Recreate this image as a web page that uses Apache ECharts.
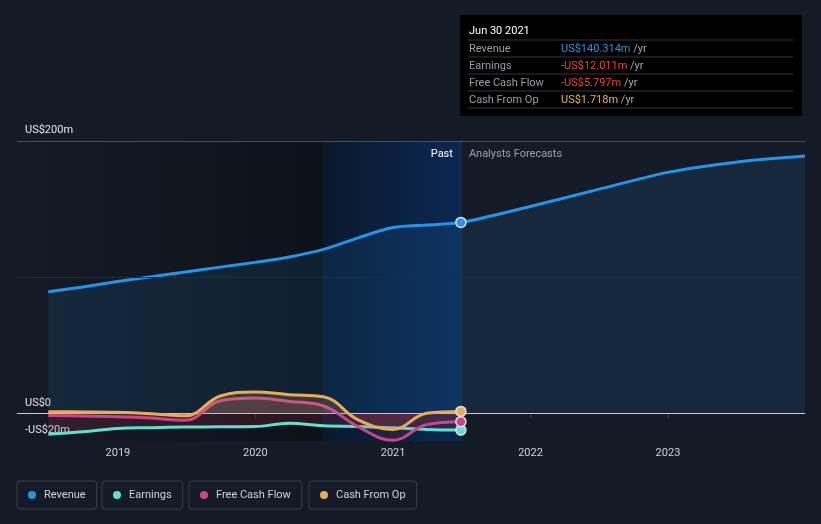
<!DOCTYPE html>
<html>
<head>
<meta charset="utf-8">
<script src="https://cdn.jsdelivr.net/npm/echarts@6/dist/echarts.min.js"></script>
<style>
html,body{margin:0;padding:0;background:#151b26;}
#c{width:821px;height:524px;}
</style>
</head>
<body>
<div id="c"></div>
<script>
// ---- data (US$ millions) ----
const pastDates = ['2018-06-30','2018-09-30','2018-12-31','2019-03-31','2019-06-30','2019-09-30','2019-12-31','2020-03-31','2020-06-30','2020-09-30','2020-12-31','2021-03-31','2021-06-30'];
const revenuePast = [89.5, 93, 97, 100.5, 104, 107.5, 111, 115, 120.5, 129, 136.5, 138.4, 140.314];
const forecastDates = ['2021-12-31','2022-06-30','2022-12-31','2023-06-30','2023-12-31'];
const revenueForecast = [152, 164.5, 177, 184.5, 189];
const earnings = [-15, -13.2, -10.8, -10.2, -9.8, -9.6, -9.4, -7, -8.9, -9.3, -10.3, -11.5, -12.011];
const freeCashFlow = [-1.3, -1.7, -2.2, -3.2, -4.8, 9.5, 11.5, 9, 5.8, -9.5, -19.5, -8, -5.797];
const cashFromOp = [1.5, 1.3, 1, 0, -1.5, 13, 16, 14, 12.5, -4.5, -11.5, 0.3, 1.718];
const yTickLabels = {'200':'US$200m','0':'US$0','-20':'-US$20m'};
const xRange = ['2018-04-08','2023-12-31'];
const highlightStart = '2020-06-30';
const pastEnd = '2021-06-30';
const tooltipTitle = 'Jun 30 2021';
const tooltipRows = [
  ['Revenue','US$140.314m','#2394ea'],
  ['Earnings','-US$12.011m','#f04438'],
  ['Free Cash Flow','-US$5.797m','#f04438'],
  ['Cash From Op','US$1.718m','#e9b457']
];
const names = ['Revenue','Earnings','Free Cash Flow','Cash From Op'];
const colors = ['#2394ea','#5fe0d2','#c9468b','#e9ab57'];

const FONT = 'Roboto, "Noto Sans", sans-serif';
const chart = echarts.init(document.getElementById('c'), null, {renderer:'canvas'});

function lastMarked(dates, vals, color, markIdx){
  return vals.map((v,i)=>{
    const it = {value:[dates[i], v]};
    if(i===markIdx){
      it.symbol='circle'; it.symbolSize=10;
      it.itemStyle={color:color,borderColor:'#dfe3e8',borderWidth:1.5};
    } else { it.symbol='none'; }
    return it;
  });
}
const revDates = pastDates.concat(forecastDates);
const revVals = revenuePast.concat(revenueForecast);

function splitGrad(zeroOff, upColor, downColor){
  return new echarts.graphic.LinearGradient(0,0,0,524,[
    {offset:0,color:upColor},{offset:zeroOff,color:upColor},
    {offset:zeroOff,color:downColor},{offset:1,color:downColor}],true);
}

function buildOption(zeroOff){
  const legends = names.map((n,i)=>({
    data:[n], left:[17,102,189,309][i], top:481,
    icon:'circle', itemWidth:8, itemHeight:8,
    padding:[7,11,7,11], borderColor:'#3a404b', borderWidth:1, borderRadius:3,
    textStyle:{color:'#cfd3d8', fontSize:11, fontFamily:FONT, padding:[1,0,0,3], lineHeight:13},
    selectedMode:false
  }));
  const tipChildren = [
    {type:'rect', shape:{x:0,y:0,width:342,height:101}, style:{fill:'#000'}},
    {type:'text', x:9, y:16, style:{text:tooltipTitle, fill:'#ffffff', font:'11px '+FONT, verticalAlign:'middle'}}
  ];
  [25,42,59,76,93].forEach(y=>tipChildren.push({type:'line', shape:{x1:8,y1:y,x2:333,y2:y}, style:{stroke:'#34373c',lineWidth:1}}));
  tooltipRows.forEach((r,i)=>{
    const cy = 34 + i*17;
    tipChildren.push({type:'text', x:9, y:cy, style:{text:r[0], fill:'#9a9ea4', font:'11px '+FONT, verticalAlign:'middle'}});
    tipChildren.push({type:'text', x:101, y:cy, style:{text:'{v|'+r[1]+'} {u|/yr}', verticalAlign:'middle', font:'11px '+FONT,
      rich:{v:{fill:r[2], font:'11px '+FONT}, u:{fill:'#a4a8ae', font:'11px '+FONT}}}});
  });
  return {
    backgroundColor:'#151b26',
    animation:false,
    textStyle:{fontFamily:FONT},
    grid:{left:17, right:16, top:141, bottom:83},
    legend: legends,
    xAxis:{type:'time', min:xRange[0], max:xRange[1],
      minInterval:365*864e5, maxInterval:366*864e5,
      axisLine:{lineStyle:{color:'#3a3f49'}},
      axisTick:{show:true,length:5,lineStyle:{color:'#3a3f49'}},
      axisLabel:{color:'#cfd3d8',fontSize:11,fontFamily:FONT,margin:7,showMinLabel:false,showMaxLabel:false,
        formatter:v=>String(new Date(v).getFullYear())},
      splitLine:{show:false}},
    yAxis:{type:'value', min:-20, max:200, interval:20,
      axisLine:{show:false}, axisTick:{show:false}, splitLine:{show:false},
      axisLabel:{inside:true, margin:8, verticalAlign:'bottom', color:'#e4e6e9', fontSize:11, fontFamily:FONT,
        padding:[0,0,5,0], formatter:v=>yTickLabels[String(v)]||''}},
    graphic:[{type:'group', left:460, top:15, children:tipChildren}],
    series:[
      {type:'line', name:'bands', data:[], z:1, silent:true,
        markArea:{silent:true, data:[
          [{xAxis:xRange[0], itemStyle:{color:new echarts.graphic.LinearGradient(0,0,1,0,[{offset:0,color:'rgba(5,8,12,0)'},{offset:1,color:'rgba(5,8,12,0.5)'}])}},{xAxis:highlightStart}],
          [{xAxis:highlightStart, itemStyle:{color:new echarts.graphic.LinearGradient(0,0,1,0,[{offset:0,color:'rgba(8,24,48,0.85)'},{offset:1,color:'rgba(10,42,88,0.85)'}])},
            label:{show:true, position:'insideTopRight', distance:8, formatter:'Past', color:'#ffffff', fontSize:11, fontFamily:FONT}},{xAxis:pastEnd}],
          [{xAxis:pastEnd, itemStyle:{color:'rgba(0,0,0,0)'},
            label:{show:true, position:'insideTopLeft', distance:8, formatter:'Analysts Forecasts', color:'#9ba1a9', fontSize:11, fontFamily:FONT}},{xAxis:xRange[1]}]
        ]},
        markLine:{silent:true, symbol:'none', label:{show:false}, data:[
          {yAxis:200, lineStyle:{color:'#474c56',width:1,type:'solid'}},
          {yAxis:100, lineStyle:{color:'#262b35',width:1,type:'solid'}},
          {xAxis:pastEnd, lineStyle:{color:'rgba(255,255,255,0.07)',width:1,type:'solid'}}
        ]}
      },
      {type:'line', name:names[0], z:3, smooth:0.3, showSymbol:true, symbol:'none',
        data:lastMarked(revDates, revVals, colors[0], pastDates.length-1),
        lineStyle:{color:colors[0], width:3}, itemStyle:{color:colors[0]},
        areaStyle:{color:'rgba(35,148,234,0.16)'}},
      {type:'line', name:'zero', data:[], z:4, silent:true,
        markLine:{silent:true, symbol:'none', label:{show:false}, data:[{yAxis:0, lineStyle:{color:'#c9ccd1',width:1,type:'solid'}}]}},
      {type:'line', name:names[1], z:5, smooth:0.4, showSymbol:true, symbol:'none',
        data:lastMarked(pastDates, earnings, colors[1], pastDates.length-1),
        lineStyle:{color:colors[1], width:3}, itemStyle:{color:colors[1]},
        areaStyle:{color:splitGrad(zeroOff,'rgba(95,224,210,0.15)','rgba(229,57,70,0.2)')}},
      {type:'line', name:names[2], z:6, smooth:0.4, showSymbol:true, symbol:'none',
        data:lastMarked(pastDates, freeCashFlow, colors[2], pastDates.length-1),
        lineStyle:{color:colors[2], width:3}, itemStyle:{color:colors[2]},
        areaStyle:{color:splitGrad(zeroOff,'rgba(201,70,139,0.25)','rgba(229,57,70,0.16)')}},
      {type:'line', name:names[3], z:7, smooth:0.4, showSymbol:true, symbol:'none',
        data:lastMarked(pastDates, cashFromOp, colors[3], pastDates.length-1),
        lineStyle:{color:colors[3], width:3}, itemStyle:{color:colors[3]},
        areaStyle:{color:splitGrad(zeroOff,'rgba(233,171,87,0.25)','rgba(229,57,70,0.14)')}}
    ]
  };
}
chart.setOption(buildOption(0.79));
const zy = chart.convertToPixel({yAxisIndex:0}, 0);
chart.setOption(buildOption(zy/524), true);
</script>
</body>
</html>
